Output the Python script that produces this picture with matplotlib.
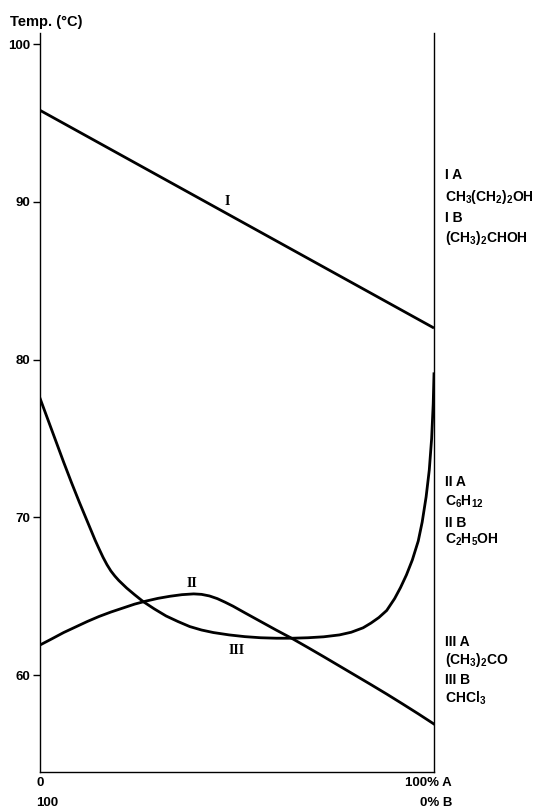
import matplotlib
matplotlib.use("Agg")
import matplotlib.pyplot as plt

plt.rcParams['font.family'] = ['Liberation Sans', 'DejaVu Sans']
plt.rcParams['mathtext.fontset'] = 'custom'
plt.rcParams['mathtext.rm'] = 'Liberation Sans:bold'
plt.rcParams['mathtext.it'] = 'Liberation Sans:bold'
plt.rcParams['mathtext.bf'] = 'Liberation Sans:bold'
plt.rcParams['mathtext.default'] = 'rm'

# ---- data (x = % A, y = temperature °C) ----
x_I = [0, 100]
t_I = [95.8, 82.0]

x_II = [0, 3, 6, 9, 12, 15, 18, 21, 24, 27, 30, 33, 36, 39, 41, 43, 45, 47, 49, 52, 56,
        60, 64, 68, 72, 76, 80, 84, 88, 92, 96, 100]
t_II = [61.91, 62.3, 62.7, 63.05, 63.4, 63.72, 64.0, 64.25, 64.5, 64.7, 64.87, 65.0, 65.1, 65.15, 65.12,
        65.02, 64.85, 64.62, 64.37, 63.95, 63.4, 62.85, 62.32, 61.75, 61.17, 60.58, 59.99, 59.4, 58.8,
        58.18, 57.55, 56.9]

x_III = [0, 2, 4, 6, 8, 10, 12, 14, 15, 16, 17, 18, 19, 20, 22, 24, 26.2, 29, 32, 35, 38, 41, 44,
         48, 52, 56, 60, 64, 68, 72, 76, 79, 82, 84, 86, 88, 90, 91.5, 93, 94.5, 96, 97, 98, 98.8,
         99.4, 99.8, 100]
t_III = [77.55, 76.2, 74.85, 73.5, 72.2, 70.95, 69.75, 68.55, 68.0, 67.47, 67.0, 66.6, 66.28, 66.0,
         65.52, 65.1, 64.66, 64.2, 63.75, 63.4, 63.08, 62.86, 62.7, 62.55, 62.44, 62.37, 62.34, 62.34,
         62.37, 62.43, 62.55, 62.72, 63.0, 63.3, 63.65, 64.1, 64.85, 65.55, 66.35, 67.3, 68.5, 69.7,
         71.3, 73.0, 75.0, 77.2, 79.1]

yticks = [60, 70, 80, 90, 100]
curve_labels = ["I", "II", "III"]
curve_label_pos = [(47.4, 90.0), (38.5, 65.82), (49.9, 61.57)]

right_labels = ["I A", r"CH$_3$(CH$_2$)$_2$OH", "I B", r"(CH$_3$)$_2$CHOH",
                "II A", r"C$_6$H$_{12}$", "II B", r"C$_2$H$_5$OH",
                "III A", r"(CH$_3$)$_2$CO", "III B", r"CHCl$_3$"]
right_label_y = [91.70, 90.32, 88.97, 87.71,
                 72.26, 71.0, 69.65, 68.57,
                 62.13, 60.96, 59.70, 58.56]

fig = plt.figure(figsize=(5.42, 8.09), dpi=100)
ax = fig.add_axes([40 / 542, 1 - 771.7 / 809, 394 / 542, 738.7 / 809])
ax.set_xlim(0, 100)
ax.set_ylim(53.88, 100.7)

lw = 2.0
ax.plot(x_I, t_I, color='black', lw=lw, solid_capstyle='butt')
ax.plot(x_II, t_II, color='black', lw=lw, solid_joinstyle='round')
ax.plot(x_III, t_III, color='black', lw=lw, solid_joinstyle='round')

for lab, (lx, ly) in zip(curve_labels, curve_label_pos):
    ax.text(lx, ly, lab, family='Liberation Serif', fontweight='bold', fontsize=10,
            ha='center', va='center')

for lab, ly in zip(right_labels, right_label_y):
    ax.text(102.8, ly, lab, fontsize=10, fontweight='bold', ha='left', va='center', clip_on=False)

ax.spines['top'].set_visible(False)
for s in ['left', 'right', 'bottom']:
    ax.spines[s].set_linewidth(1.0)
ax.set_xticks([])
ax.set_yticks(yticks)
ax.set_yticklabels([str(v) for v in yticks], fontsize=9.5, fontweight='bold')
ax.tick_params(axis='y', length=5, width=1.0, pad=2, direction='out')

fig.text(10 / 542, 1 - 21.7 / 809, "Temp. (°C)", fontsize=10.5, fontweight='bold', ha='left', va='center')
fig.text(40 / 542, 1 - 782.5 / 809, "0", fontsize=9.5, fontweight='bold', ha='center', va='center')
fig.text(36 / 542, 1 - 803 / 809, "100", fontsize=9.5, fontweight='bold', ha='left', va='center')
fig.text(452 / 542, 1 - 782.5 / 809, "100% A", fontsize=9.5, fontweight='bold', ha='right', va='center')
fig.text(452 / 542, 1 - 803 / 809, "0% B", fontsize=9.5, fontweight='bold', ha='right', va='center')

fig.savefig("out.png", dpi=100)
